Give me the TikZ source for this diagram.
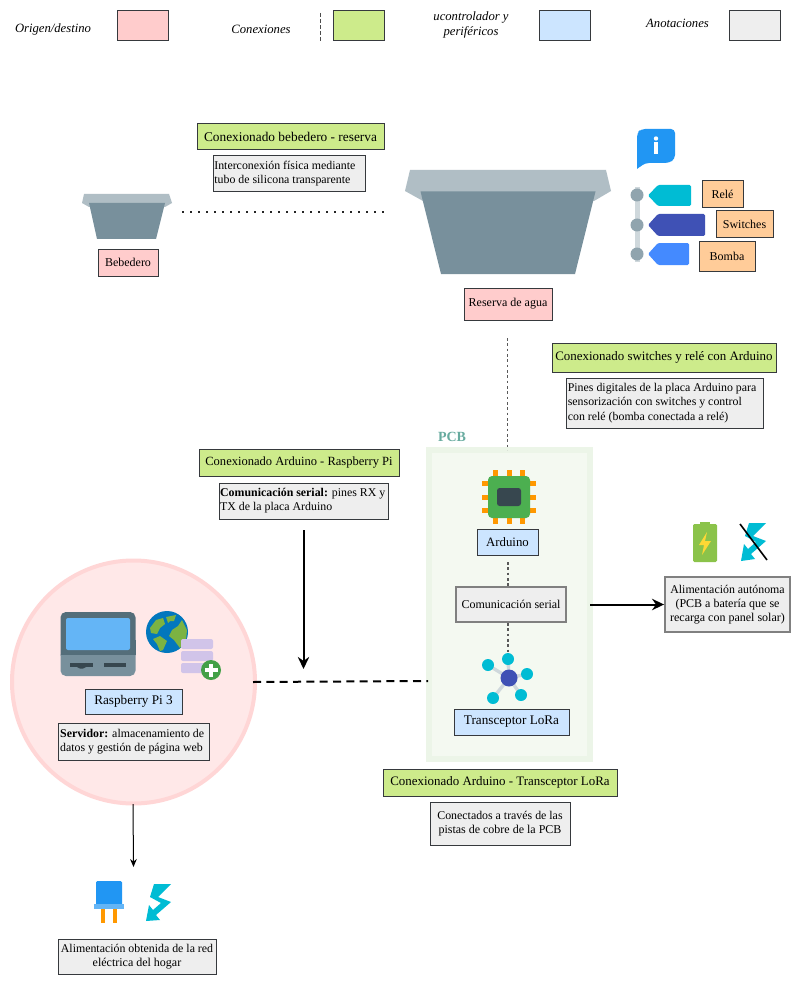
\documentclass[tikz,border=0pt]{standalone}
\usepackage{fontspec}
\setmainfont{Liberation Serif}
\usetikzlibrary{arrows.meta}
\definecolor{cpink}{HTML}{FFCCCC}
\definecolor{cgreen}{HTML}{CDEB8B}
\definecolor{cblue}{HTML}{CCE5FF}
\definecolor{cgrey}{HTML}{EEEEEE}
\definecolor{corange}{HTML}{FFCC99}
\definecolor{cedge}{HTML}{36393D}
\definecolor{ctrA}{HTML}{B0BEC5}
\definecolor{ctrB}{HTML}{78909C}
\definecolor{cteal}{HTML}{00BCD4}
\definecolor{cindigo}{HTML}{3F51B5}
\definecolor{cbluei}{HTML}{2196F3}
\definecolor{cgreenl}{HTML}{7CB342}
\definecolor{cpad}{HTML}{FF9800}
\tikzset{
  x=0.75pt,y=-0.75pt,
  box/.style={draw=cedge,line width=0.75pt,inner sep=0pt,align=center,font=\fontsize{9}{10.5}\selectfont,anchor=center},
  origenbox/.style={box,fill=cpink},
  conexbox/.style={box,fill=cgreen,font=\fontsize{9.7}{11}\selectfont},
  perifbox/.style={box,fill=cblue},
  notebox/.style={box,fill=cgrey},
  heavynote/.style={notebox,draw=black!50,line width=1.4pt},
  relbox/.style={box,fill=corange},
  legendtxt/.style={align=center,inner sep=0pt,font=\fontsize{9.5}{11.25}\selectfont\itshape},
  dotline/.style={draw=black!65,line width=0.85pt,dash pattern=on 2pt off 2pt},
  arrowthick/.style={draw=black,line width=1.5pt,-{Stealth[length=9pt,width=8.5pt]}},
}
\newcommand{\pxbox}[7]{%
  \pgfmathsetmacro{\bw}{(#5-#3)*0.75}\pgfmathsetmacro{\bh}{(#6-#4)*0.75}%
  \node[#1,minimum width=\bw pt,minimum height=\bh pt] (#2) at ({(#3+#5)/2},{(#4+#6)/2}) {#7};}
\begin{document}
\begin{tikzpicture}
\useasboundingbox (0,0) rectangle (800,984);
\fill[white] (0,0) rectangle (800,984);

% legend
\node[legendtxt] (l1) at (53,29) {Origen/destino};
\pxbox{origenbox}{lb1}{117}{11}{168}{41}{}
\node[legendtxt] (l2) at (261,29) {Conexiones};
\coordinate (ld0) at (320,13); \coordinate (ld1) at (320,41);
\draw[draw=black!70,line width=0.75pt,dash pattern=on 3pt off 1.5pt] (ld0) -- (ld1);
\pxbox{conexbox}{lb2}{333}{11}{384}{41}{}
\node[legendtxt] (l3) at (471,25) {ucontrolador y\\periféricos};
\pxbox{perifbox}{lb3}{539}{11}{590}{41}{}
\node[legendtxt] (l4) at (677.5,23) {Anotaciones};
\pxbox{notebox}{lb4}{729}{11}{780}{41}{}

% troughs
\fill[ctrA] (84,194) -- (169,194) -- (172,203) -- (165,207) -- (89,207) -- (82,203) -- cycle;
\fill[ctrB] (89,203) -- (165,203) -- (156,239) -- (97,239) -- cycle;
\fill[ctrA] (410,170) -- (606,170) -- (611,191) -- (594,201) -- (423,201) -- (405,191) -- cycle;
\fill[ctrB] (420.5,191.5) -- (595.5,191.5) -- (575,274) -- (441,274) -- cycle;

\coordinate (dotA) at (182,212); \coordinate (dotB) at (385,212);
\draw[draw=black!85,line width=1.5pt,dash pattern=on 1.5pt off 4.5pt] (dotA) -- (dotB);

\pxbox{conexbox}{cbb}{197}{124}{384}{150}{\fontsize{10}{11}\selectfont Conexionado bebedero - reserva}
\pxbox{notebox}{inter}{213}{156}{365}{192}{\parbox{112pt}{\raggedright\fontsize{8.9}{10.5}\selectfont Interconexión física mediante\\tubo de silicona transparente}}
\pxbox{origenbox}{bebe}{98}{249}{158}{276}{Bebedero}
\pxbox{origenbox}{res}{464}{288}{552}{320}{Reserva de agua}

% info bubble
\fill[cbluei,rounded corners=3pt] (637,133) -- (637,169) -- (645,163) -- (669,163) -- (675,159) -- (675,129) -- (641,129) -- cycle;
\fill[cbluei] (637,150) -- (637,169) -- (646,162) -- (646,150) -- cycle;
\fill[white] (654,142.5) rectangle (658,154);
\fill[white] (656,138.5) circle (2.2);

% tags
\fill[color={rgb,255:red,207;green,216;blue,220}] (634.5,187) rectangle (639.5,262);
\foreach \yy in {195,225,254}{\fill[color={rgb,255:red,144;green,164;blue,174}] (637,\yy) circle (6.5);}
\fill[cteal,rounded corners=1pt] (648,195.5) -- (658,185) -- (691,185) -- (691,206) -- (658,206) -- cycle;
\fill[cindigo,rounded corners=1pt] (648,225) -- (658,214) -- (705,214) -- (705,236) -- (658,236) -- cycle;
\fill[color={rgb,255:red,68;green,138;blue,255},rounded corners=1pt] (648,254) -- (658,243) -- (689,243) -- (689,265) -- (658,265) -- cycle;
\pxbox{relbox}{rele}{702}{181}{743}{208}{Relé}
\pxbox{relbox}{swit}{716}{211}{773}{238}{Switches}
\pxbox{relbox}{bomb}{699}{241}{755}{271}{Bomba}

\pxbox{conexbox}{csw}{552}{343}{776}{372}{Conexionado switches y relé con Arduino}
\pxbox{notebox}{pines}{566}{378}{763}{428}{\parbox{145pt}{\raggedright\fontsize{8.9}{11}\selectfont Pines digitales de la placa Arduino para\\sensorización con switches y control\\con relé (bomba conectada a relé)}}

% PCB
\fill[color={rgb,255:red,244;green,249;blue,241}] (429,450) rectangle (590,759);
\draw[color={rgb,255:red,236;green,245;blue,232},line width=4.5pt] (429,450) rectangle (590,759);
\definecolor{cpcb}{HTML}{67AB9F}
\node[inner sep=0pt,text=cpcb,font=\fontsize{10.5}{12}\selectfont\bfseries] (pcb) at (452,437) {PCB};
\coordinate (rb) at (507.5,338); \coordinate (pcbtop) at (507.5,450);
\draw[dotline] (rb) -- (pcbtop);

% chip
\foreach \a in {-14,0,13}{
  \fill[cpad] (509+\a-2.5,470) rectangle (509+\a+2.5,476);
  \fill[cpad] (509+\a-2.5,518) rectangle (509+\a+2.5,523.5);
  \fill[cpad] (482,497+\a-2.5) rectangle (488,497+\a+2.5);
  \fill[cpad] (530,497+\a-2.5) rectangle (536,497+\a+2.5);
}
\fill[color={rgb,255:red,76;green,175;blue,80},rounded corners=3pt] (488,476) rectangle (530,518);
\fill[color={rgb,255:red,55;green,71;blue,79},rounded corners=2pt] (497,488) rectangle (521,506);

\pxbox{perifbox}{ard}{477}{529}{538}{555}{\fontsize{9.6}{11}\selectfont Arduino}
\pxbox{heavynote}{cser}{456}{587}{566}{622}{\fontsize{9}{10}\selectfont Comunicación serial}
\pxbox{perifbox}{lora}{454}{709}{569}{735}{\fontsize{9.9}{11}\selectfont Transceptor LoRa}
\coordinate (netc) at (509,678);
\coordinate (s1) at (508,659); \coordinate (s2) at (488,665); \coordinate (s3) at (527,674); \coordinate (s4) at (493,698); \coordinate (s5) at (521,695);
\coordinate (ardS) at (508,562);
\draw[dotline] (ardS) -- (cser.north -| ardS);
\draw[dotline] (cser.south -| ardS) -- (s1);
\foreach \s in {s1,s2,s3,s4,s5}{\draw[color={rgb,255:red,207;green,216;blue,220},line width=2.5pt] (netc) -- (\s);}
\foreach \s in {s1,s2,s3,s4,s5}{\fill[cteal] (\s) circle (6);}
\fill[cindigo] (netc) circle (8.5);

% right side
\pxbox{heavynote}{auto}{665}{577}{790}{632}{\fontsize{8.9}{10.5}\selectfont Alimentación autónoma\\(PCB a batería que se\\recarga con panel solar)}
\coordinate (cserR) at (590,604.5);
\draw[arrowthick] (cserR) -- (auto.west);
\fill[color={rgb,255:red,139;green,195;blue,74},rounded corners=1pt] (693,524) rectangle (717,562);
\fill[color={rgb,255:red,139;green,195;blue,74}] (700,522) rectangle (710,526);
\fill[color={rgb,255:red,253;green,216;blue,53}] (707,532) -- (699,545) -- (704,545) -- (702,555) -- (711,541) -- (705,541) -- cycle;
\begin{scope}[shift={(741,523)}]
\fill[cteal] (8,0) -- (25,0) -- (12,13) -- (25,18) -- (10,31) -- (14,36) -- (0,38) -- (3,21) -- (7,26) -- (15,19) -- (4,13) -- cycle;
\end{scope}
\draw[line width=1.2pt] (740,524) -- (767,560);

% annotations
\pxbox{conexbox}{car}{199}{449}{399}{476}{\fontsize{9.4}{11}\selectfont Conexionado Arduino - Raspberry Pi}
\pxbox{notebox}{crx}{219}{483}{388}{519}{\parbox{125pt}{\raggedright\fontsize{8.9}{10.5}\selectfont\textbf{Comunicación serial:} pines RX y\\TX de la placa Arduino}}
\coordinate (arA) at (303.5,530); \coordinate (arB) at (303.5,669);
\draw[arrowthick] (arA) -- (arB);

% circle
\fill[color={rgb,255:red,255;green,232;blue,232}] (133.5,682) circle (121.5);
\draw[color={rgb,255:red,255;green,214;blue,214},line width=3pt] (133.5,682) circle (121.5);
\node[inner sep=0pt,minimum size=0pt] (pi) at (133.5,682) {};

% rpi device
\fill[color={rgb,255:red,84;green,110;blue,122},rounded corners=4pt] (60.5,612) rectangle (135.5,660);
\fill[ctrB,rounded corners=4pt] (60.5,650) rectangle (135.5,676);
\fill[color={rgb,255:red,84;green,110;blue,122}] (60.5,640) rectangle (135.5,655);
\fill[color={rgb,255:red,100;green,181;blue,246},rounded corners=1.5pt] (66,618) rectangle (130,650);
\fill[color={rgb,255:red,55;green,71;blue,79}] (70,663) rectangle (92.5,667);
\fill[color={rgb,255:red,55;green,71;blue,79}] (77,667) -- (86,667) -- (83,668.5) -- (80,668.5) -- cycle;
\fill[color={rgb,255:red,55;green,71;blue,79}] (104,663) rectangle (126,667);
% globe
\fill[color={rgb,255:red,2;green,119;blue,189}] (167,632) circle (21);
\fill[cgreenl] (150,628) -- (156,620) -- (163,618) -- (165,624) -- (160,628) -- (157,634) -- (151,633) -- cycle;
\fill[cgreenl] (153,639) -- (160,636) -- (167,641) -- (163,650) -- (160,651) -- (157,644) -- cycle;
\fill[cgreenl] (166,617) -- (176,615) -- (174,621) -- (170,621) -- (168,623) -- cycle;
\fill[cgreenl] (169,636) -- (172,630) -- (178,626) -- (182,620) -- (187,630) -- (186,640) -- (180,648) -- (174,640) -- cycle;
% stack
\foreach \yy in {639,651,663}{\fill[color={rgb,255:red,209;green,196;blue,233},rounded corners=1.5pt] (181,\yy) rectangle (213,\yy+10);}
\fill[color={rgb,255:red,67;green,160;blue,71}] (211,670) circle (10);
\fill[white] (209,663.5) rectangle (213,676.5);
\fill[white] (204.5,668) rectangle (217.5,672);

\pxbox{perifbox}{rpi}{85}{689}{182}{714}{\fontsize{9.9}{11}\selectfont Raspberry Pi 3}
\pxbox{notebox}{serv}{58}{723}{209}{760}{\parbox{110pt}{\raggedright\fontsize{8.9}{10.5}\selectfont\textbf{Servidor:} almacenamiento de\\datos y gestión de página web}}

\coordinate (daA) at (253,682); \coordinate (daB) at (428,681);
\draw[draw=black,line width=1.5pt,dash pattern=on 6pt off 4pt] (daA) -- (daB);

\pxbox{conexbox}{ctr}{383}{769}{617}{796}{Conexionado Arduino - Transceptor LoRa}
\pxbox{notebox}{cobre}{430}{802}{570}{845}{\fontsize{8.9}{10.5}\selectfont Conectados a través de las\\pistas de cobre de la PCB}

% bottom
\coordinate (piS) at (133,804); \coordinate (plugN) at (133.5,867);
\draw[draw=black,line width=0.75pt,-{Stealth[length=6pt,width=5pt]}] (piS) -- (plugN);
\fill[cpad] (101,905) rectangle (105,923);
\fill[cpad] (113,905) rectangle (117,923);
\fill[cbluei,rounded corners=1pt] (96,881) rectangle (122,906);
\fill[color={rgb,255:red,100;green,181;blue,246}] (94,904) rectangle (124,909);
\begin{scope}[shift={(146,884)}]
\fill[cteal] (8,0) -- (25,0) -- (12,13) -- (25,18) -- (10,31) -- (14,36) -- (0,37) -- (3,21) -- (7,26) -- (15,19) -- (4,13) -- cycle;
\end{scope}
\pxbox{notebox}{red}{58}{939}{216}{974}{\fontsize{8.9}{10.5}\selectfont Alimentación obtenida de la red\\eléctrica del hogar}
\end{tikzpicture}
\end{document}
